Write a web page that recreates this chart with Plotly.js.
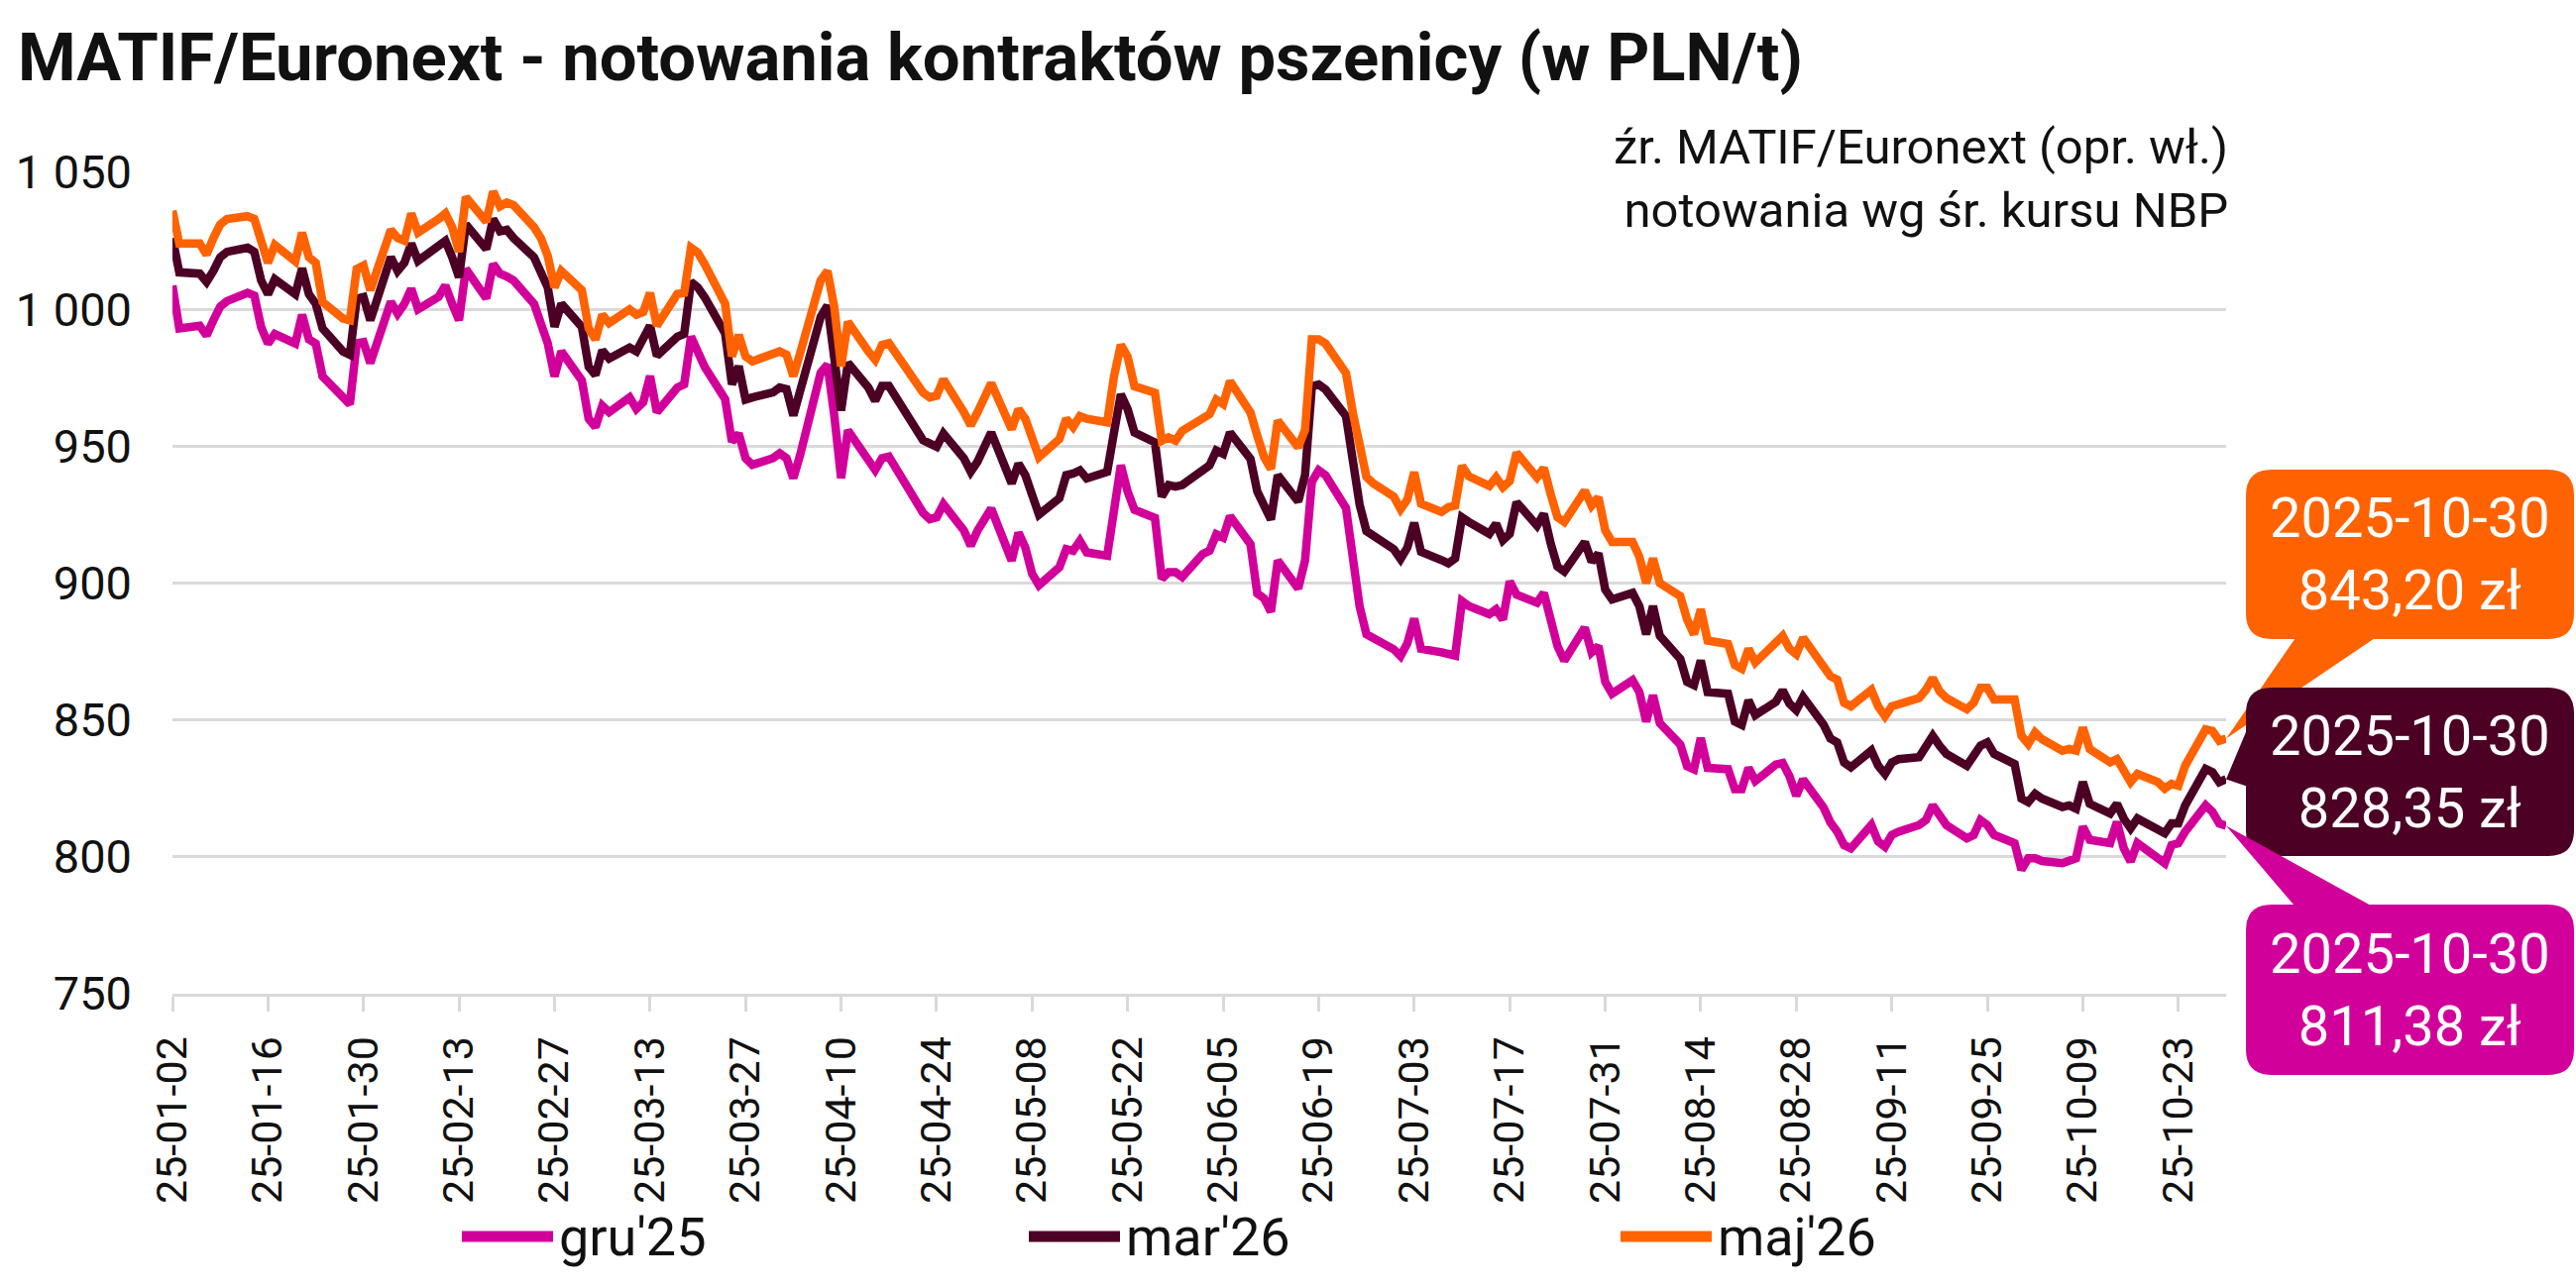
<!DOCTYPE html>
<html>
<head>
<meta charset="utf-8">
<script src="https://cdn.plot.ly/plotly-3.0.1.min.js"></script>
<style>html,body{margin:0;padding:0;background:#fff;}#chart{width:2599px;height:1300px;}</style>
</head>
<body>
<div id="chart"></div>
<script>
// ---- data ----
const dates = [
"2025-01-02","2025-01-03","2025-01-06","2025-01-07","2025-01-08","2025-01-09","2025-01-10","2025-01-13","2025-01-14","2025-01-15","2025-01-16","2025-01-17","2025-01-20","2025-01-21","2025-01-22","2025-01-23","2025-01-24","2025-01-27","2025-01-28","2025-01-29","2025-01-30","2025-01-31",
"2025-02-03","2025-02-04","2025-02-05","2025-02-06","2025-02-07","2025-02-10","2025-02-11","2025-02-12","2025-02-13","2025-02-14","2025-02-17","2025-02-18","2025-02-19","2025-02-20","2025-02-21","2025-02-24","2025-02-25","2025-02-26","2025-02-27","2025-02-28",
"2025-03-03","2025-03-04","2025-03-05","2025-03-06","2025-03-07","2025-03-10","2025-03-11","2025-03-12","2025-03-13","2025-03-14","2025-03-17","2025-03-18","2025-03-19","2025-03-20","2025-03-21","2025-03-24","2025-03-25","2025-03-26","2025-03-27","2025-03-28","2025-03-31",
"2025-04-01","2025-04-02","2025-04-03","2025-04-04","2025-04-07","2025-04-08","2025-04-09","2025-04-10","2025-04-11","2025-04-14","2025-04-15","2025-04-16","2025-04-17","2025-04-22","2025-04-23","2025-04-24","2025-04-25","2025-04-28","2025-04-29","2025-04-30",
"2025-05-02","2025-05-05","2025-05-06","2025-05-07","2025-05-08","2025-05-09","2025-05-12","2025-05-13","2025-05-14","2025-05-15","2025-05-16","2025-05-19","2025-05-20","2025-05-21","2025-05-22","2025-05-23","2025-05-26","2025-05-27","2025-05-28","2025-05-29","2025-05-30",
"2025-06-02","2025-06-03","2025-06-04","2025-06-05","2025-06-06","2025-06-09","2025-06-10","2025-06-11","2025-06-12","2025-06-13","2025-06-16","2025-06-17","2025-06-18","2025-06-19","2025-06-20","2025-06-23","2025-06-24","2025-06-25","2025-06-26","2025-06-27","2025-06-30",
"2025-07-01","2025-07-02","2025-07-03","2025-07-04","2025-07-07","2025-07-08","2025-07-09","2025-07-10","2025-07-11","2025-07-14","2025-07-15","2025-07-16","2025-07-17","2025-07-18","2025-07-21","2025-07-22","2025-07-23","2025-07-24","2025-07-25","2025-07-28","2025-07-29","2025-07-30","2025-07-31",
"2025-08-01","2025-08-04","2025-08-05","2025-08-06","2025-08-07","2025-08-08","2025-08-11","2025-08-12","2025-08-13","2025-08-14","2025-08-15","2025-08-18","2025-08-19","2025-08-20","2025-08-21","2025-08-22","2025-08-25","2025-08-26","2025-08-27","2025-08-28","2025-08-29",
"2025-09-01","2025-09-02","2025-09-03","2025-09-04","2025-09-05","2025-09-08","2025-09-09","2025-09-10","2025-09-11","2025-09-12","2025-09-15","2025-09-16","2025-09-17","2025-09-18","2025-09-19","2025-09-22","2025-09-23","2025-09-24","2025-09-25","2025-09-26","2025-09-29","2025-09-30",
"2025-10-01","2025-10-02","2025-10-03","2025-10-06","2025-10-07","2025-10-08","2025-10-09","2025-10-10","2025-10-13","2025-10-14","2025-10-15","2025-10-16","2025-10-17","2025-10-20","2025-10-21","2025-10-22","2025-10-23","2025-10-24","2025-10-27","2025-10-28","2025-10-29","2025-10-30"
];

const gru25 = [
1008.7,993,994,990.5,996,1001,1003,1006,1005,993.5,987.5,991,987.5,998,989,987.5,975.5,967,965.3,987.6,988,980.4,
1002.7,998.4,1002,1007.5,1000,1004.5,1008.7,1002,996,1014.7,1004,1016.5,1013,1012,1010.5,1002,995,987.6,975.5,984.6,
974,960,957,964.8,962.4,967.8,963.6,966,975.6,962.4,971.4,972.6,990,985,979,967.2,951.6,954.6,945.6,943.2,945.6,
947.4,945.6,938.3,946.8,976.8,979.8,961.2,938.3,955.8,944.4,941.3,945.6,946.2,925.7,923.3,924,928.8,919.2,913.7,919.2,
927.2,908.2,918.4,913,903.4,899.2,905.8,912.4,911.8,915.4,911.2,910,927.4,943,933.4,926.8,923.8,901.6,904,904,902.2,
910.6,911.8,917.8,916.6,924.4,914.2,896.2,894.4,889.5,908.2,898,908.2,937,941.2,939.4,927.4,909.4,891.4,881.3,880,875.8,
873.3,878,887,876,874.7,874,873.5,893.4,891.6,888.6,890.4,886.7,900.6,895.8,892.8,896.4,885.5,877,871.7,883.7,874.7,877,863.9,
859.6,864.5,860.2,849.4,859,848.8,841,833.1,832,843.4,832.5,832,824.7,824.7,832.5,827.7,833.7,834.3,829.5,822.3,828.3,
818,812.6,809.2,804.3,803.1,811.6,805.6,803.7,808,809.2,811.6,813.4,818.8,815.8,811.6,806.8,808,813.4,811.6,808,805,795.3,
799.5,799.5,798.5,797.7,798.3,799.5,811,806.2,805,812.8,803.1,798.3,805,799.5,797.7,804.3,805,809.2,818.8,816.4,812.2,811.38
];

const mar26 = [
1026,1013.5,1013,1010,1014,1019,1021,1022.5,1021,1010.5,1005.5,1011,1005.5,1015,1005.5,1002,993,984.6,983.4,1003.9,1004.5,996,
1019,1014,1017,1024,1017.7,1022.5,1025,1019,1011.7,1031,1022,1033,1028.5,1029,1026,1019,1014,1008,993.6,1002,
993.6,979,976,985,982,986,984.6,990,994,983,990,991,1010,1008,1004.4,991.2,972.6,979.2,967,967.8,969.6,
971.4,970.8,961.2,970.8,997.2,1001.4,984,963,980.4,971.4,966.6,972,972,952.2,951,949.8,954.6,945.6,940.7,944.4,
955,936.4,943.6,939.4,932.2,925,931,939.4,940,941.2,938.2,940.6,955,968.9,963.5,955,951.4,931.6,935.8,935.2,935.8,
940.6,943,948.4,947.2,955,945.4,933.4,927.4,923.2,939.4,929.8,939.4,971.9,972.5,970.7,961,945.4,928.6,919,917.2,912.4,
908.8,913,922,911.4,908.4,907.2,909,924,922.3,918,921.7,915.7,918,929.5,921,925.3,914.5,906,904.2,915,907.8,910.8,897.6,
894,896.4,891.6,881.3,891.6,880.7,872.3,863.9,862.7,871.7,860.2,859.6,849.4,848.2,857.2,851.8,856.6,860.8,856,853.6,858.4,
848.3,843.2,841.8,834.5,832.7,838.8,833.3,830.3,834.5,835.7,836.4,840,844.2,840.6,837.6,833.3,837,840.6,841.8,837.6,833.9,821.3,
820,823,821.3,818.2,818.8,817.6,827.3,819.4,815.8,819.4,814,810.4,814,809.8,808.6,812.2,812.2,818.8,832.1,830.9,827.3,828.35
];

const maj26 = [
1036,1024,1024,1020,1026,1031,1033,1034,1033,1025,1017,1023.5,1017.5,1028,1019,1017,1002.7,996.6,996,1014.7,1016,1007,
1029,1026,1025,1035,1028,1033,1035,1030,1021,1041,1032,1043,1037.6,1039,1038,1030,1026,1019.5,1008,1014,
1007,993,989,998,995,1000,998,999,1006,994,1005.6,1006,1022.5,1020.7,1016.5,1002,982.8,990.6,982.8,981,983.4,
984.6,983.4,975.6,984,1010.5,1014,1000.8,979.2,995.4,984.6,981.6,987,987.6,969.6,967.8,968.4,974.4,962.4,957.6,962.4,
973,956.2,963.5,960,954,946,952.6,960,957,961,960,958.7,975.5,987,982.7,971.9,969.5,952,953.2,952,955.6,
960,961.7,967,965.4,973.7,962.3,953.8,946,941.7,959.3,949.6,956,989,989,987.5,976.7,962.3,949,938.8,936.4,931.6,
927,930.5,940.5,929,926,927.7,928.3,942.8,939,935.5,938.6,935,937.3,947.6,938.6,942,932.5,924,922.3,933.7,928.3,931.3,919.3,
915,915,909.6,900,909,900,895.2,886.7,881.3,890.4,879,877.7,870,868.7,876,871,878,880.7,876,874,880,
869.5,866,864.7,856.3,855,861,855,851.4,855,855.7,858,861,865.3,860.5,858,853.9,856.3,861.7,861.7,857.5,857.5,844.2,
841.2,845.4,843,838.8,839.4,838.8,847.2,839.4,834.5,835.7,831,827.3,830.3,827.3,824.9,826.7,826,833.3,846.6,846,842.4,843.2
];

const seriesNames = ["gru'25", "mar'26", "maj'26"];
const seriesValues = [gru25, mar26, maj26];
const titleText = "MATIF/Euronext - notowania kontraktów pszenicy (w PLN/t)";
const sourceLines = ["źr. MATIF/Euronext (opr. wł.)", "notowania wg śr. kursu NBP"];
const yMin = 750, yMax = 1050, yStep = 50;
const xFirstTick = "2025-01-02";
const xTickDays = 14;
const currency = "zł";

// ---- styles ----
const colors = ["#D2009A", "#4B0024", "#FF6200"];
const FONT = "Roboto, 'Noto Sans', sans-serif";
const W = 2599, H = 1300;
const M = {l: 174, r: 353, t: 174, b: 297};
const PW = W - M.l - M.r, PH = H - M.t - M.b;
const px = x => (x - M.l) / PW;           // pixel -> paper x
const py = y => (H - M.b - y) / PH;       // pixel -> paper y

const xStart = dates[0], xEnd = dates[dates.length - 1];
const t0 = Date.parse(xStart + "T00:00:00Z"), t1 = Date.parse(xEnd + "T00:00:00Z");
const dataPaperX = d => (Date.parse(d + "T00:00:00Z") - t0) / (t1 - t0);
const dataPaperY = v => (v - yMin) / (yMax - yMin);

const traces = seriesValues.map((vals, i) => ({
  type: "scatter", mode: "lines", x: dates, y: vals, name: seriesNames[i],
  line: {color: colors[i], width: 8.5}, showlegend: false, hoverinfo: "skip"
}));

// rounded box path in paper coordinates from pixel rectangle
function roundBox(x0, y0, x1, y1, r) {
  const P = (x, y) => px(x) + "," + py(y);
  return "M" + P(x0 + r, y0) + " L" + P(x1 - r, y0) + " Q" + P(x1, y0) + " " + P(x1, y0 + r) +
    " L" + P(x1, y1 - r) + " Q" + P(x1, y1) + " " + P(x1 - r, y1) +
    " L" + P(x0 + r, y1) + " Q" + P(x0, y1) + " " + P(x0, y1 - r) +
    " L" + P(x0, y0 + r) + " Q" + P(x0, y0) + " " + P(x0 + r, y0) + " Z";
}

const shapes = [];
const annotations = [];

// callout boxes (index: 2 = maj'26 top, 1 = mar'26 middle, 0 = gru'25 bottom)
const boxX0 = 2266, boxX1 = 2597;
const boxY = {2: [474, 645], 1: [694, 864], 0: [913, 1085]};
const wedgeBase = {
  2: [[2320, 638], [2405, 638]],
  1: [[2284, 696], [2274, 796]],
  0: [[2320, 920], [2403, 920]]
};
[2, 1, 0].forEach(i => {
  const vals = seriesValues[i];
  const last = vals[vals.length - 1];
  const tipX = dataPaperX(xEnd), tipY = dataPaperY(last);
  const b = wedgeBase[i];
  shapes.push({
    type: "path", xref: "paper", yref: "paper", layer: "above",
    path: "M" + tipX + "," + tipY + " L" + px(b[0][0]) + "," + py(b[0][1]) + " L" + px(b[1][0]) + "," + py(b[1][1]) + " Z",
    fillcolor: colors[i], line: {width: 0}
  });
  shapes.push({
    type: "path", xref: "paper", yref: "paper", layer: "above",
    path: roundBox(boxX0, boxY[i][0], boxX1, boxY[i][1], 26),
    fillcolor: colors[i], line: {width: 0}
  });
  annotations.push({
    xref: "paper", yref: "paper", x: px((boxX0 + boxX1) / 2), y: py((boxY[i][0] + boxY[i][1]) / 2),
    xanchor: "center", yanchor: "middle", showarrow: false, align: "center",
    text: xEnd + "<br>" + last.toFixed(2).replace(".", ",") + " " + currency,
    font: {family: FONT, size: 56, color: "#ffffff"}
  });
});

// source note
annotations.push({
  xref: "paper", yref: "paper", x: px(2250), y: py(180), xanchor: "right", yanchor: "middle",
  align: "right", showarrow: false, text: sourceLines.join("<br>"),
  font: {family: FONT, size: 49, color: "#111111"}
});

// custom legend
const legX = [466, 1038, 1635], legY = 1248, legLen = 92;
seriesNames.forEach((n, i) => {
  shapes.push({
    type: "line", xref: "paper", yref: "paper",
    x0: px(legX[i]), x1: px(legX[i] + legLen), y0: py(legY), y1: py(legY),
    line: {color: colors[i], width: 11}
  });
  annotations.push({
    xref: "paper", yref: "paper", x: px(legX[i] + legLen + 4), y: py(legY),
    xanchor: "left", yanchor: "middle", showarrow: false, text: n,
    font: {family: FONT, size: 54, color: "#111111"}
  });
});

const layout = {
  width: W, height: H, autosize: false,
  margin: {l: M.l, r: M.r, t: M.t, b: M.b, pad: 0},
  paper_bgcolor: "#ffffff", plot_bgcolor: "#ffffff",
  separators: ", ",
  font: {family: FONT, color: "#111111"},
  title: {
    text: titleText, xref: "container", yref: "container",
    x: 18 / W, xanchor: "left", y: 1 - 58 / H, yanchor: "middle",
    font: {family: FONT, size: 67, weight: 700, color: "#111111"}, pad: {t: 0, b: 0, l: 0, r: 0}
  },
  xaxis: {
    type: "date", range: [xStart, xEnd], tick0: xFirstTick, dtick: xTickDays * 86400000,
    tickformat: "%y-%m-%d", tickangle: -90, ticks: "outside", ticklen: 15, tickwidth: 3,
    tickcolor: "#D9D9D9", showline: true, linecolor: "#D9D9D9", linewidth: 3,
    showgrid: false, zeroline: false, automargin: false, ticklabelstandoff: 8,
    tickfont: {family: FONT, size: 43, color: "#111111"}
  },
  yaxis: {
    range: [yMin, yMax], tick0: yMin, dtick: yStep, tickformat: ",d",
    showgrid: true, gridcolor: "#D9D9D9", gridwidth: 3, zeroline: false, showline: false,
    ticks: "", automargin: false, ticklabelstandoff: 40,
    tickfont: {family: FONT, size: 47, color: "#111111"}
  },
  shapes: shapes, annotations: annotations, showlegend: false
};

Plotly.newPlot("chart", traces, layout, {displayModeBar: false, staticPlot: true});
</script>
</body>
</html>
